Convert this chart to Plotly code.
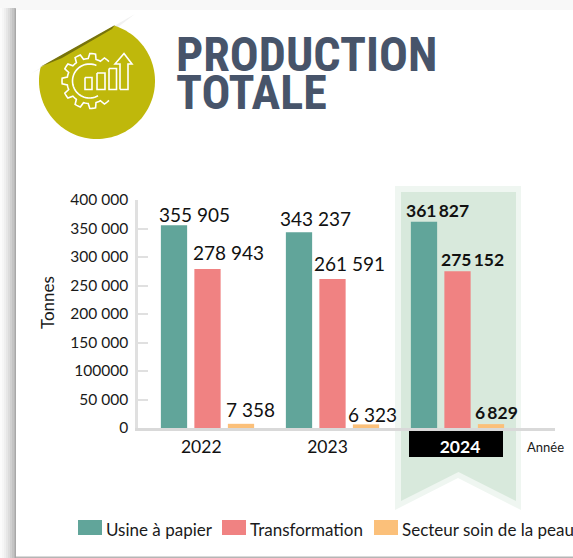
import math
import plotly.graph_objects as go

W, H = 573, 558
years = ["2022", "2023", "2024"]
usine = [355905, 343237, 361827]
transformation = [278943, 261591, 275152]
soin = [7358, 6323, 6829]
series_names = ["Usine à papier", "Transformation", "Secteur soin de la peau"]
colors = ["#61a59a", "#f08282", "#fbc07a"]
y_ticks = [0, 50000, 100000, 150000, 200000, 250000, 300000, 350000, 400000]
y_labels = ["0", "50 000", "100000", "150 000", "200 000", "250 000", "300 000", "350 000", "400 000"]

FONT = "Lato"
TITLE_COL = "#47546a"
OLIVE = "#bfb80b"
ML, MR, MT, MB = 138, 18, 200, 130
PW, PH = W - ML - MR, H - MT - MB

def X(p): return (p - ML) / PW
def Y(p): return (MT + PH - p) / PH
def fmt(v, sep=" "): return f"{v:,}".replace(",", sep)

def path(points, close=True):
    s = "M " + " L ".join(f"{X(a):.5f},{Y(b):.5f}" for a, b in points)
    return s + (" Z" if close else "")

shapes = []
def poly(points, fill, layer="below", line=None, width=0, close=True):
    shapes.append(dict(type="path", xref="paper", yref="paper", path=path(points, close), layer=layer,
                       fillcolor=fill if close else "rgba(0,0,0,0)",
                       line=dict(color=line or "rgba(0,0,0,0)", width=width)))
def rect(x0, y0, x1, y1, fill, layer="below"):
    poly([(x0, y0), (x1, y0), (x1, y1), (x0, y1)], fill, layer)

# page shadow around the card
rect(0, 0, W, 10, "#f8f8f8")
for i, col in enumerate(["#fbfbfb", "#f6f6f6", "#efefef", "#e6e6e6", "#dcdcdc", "#d0d0d0", "#c4c4c4", "#b8b8b8"]):
    rect(i * 2, 8, i * 2 + 2, H, col)
rect(15, 9, 16, H, "#a8a8a8")
rect(16, 556.5, W, H, "#b5b5b5")

# ribbon behind 2024
rib = lambda l, r, t, b, n: [(l, t), (r, t), (r, b), ((l + r) / 2, n), (l, b)]
poly(rib(395, 521, 186, 510, 478), "#eff6f1")
poly(rib(401, 516, 192, 501, 472), "#d8e9dc")
rect(409, 429, 503, 457, "#000000")

# badge
cx, cy, rad = 97, 81, 58
a0 = math.atan2(67 - cy, 40 - cx)
a1 = math.atan2(25 - cy, 115 - cx)
if a0 < 0: a0 += 2 * math.pi
if a1 < 0: a1 += 2 * math.pi
steps = 90
badge = []
start = a1
end = a0
if end < start:
    end += 2 * math.pi
for k in range(steps + 1):
    a = start + (end - start) * k / steps
    badge.append((cx + rad * math.cos(a), cy + rad * math.sin(a)))
poly([(30, 74), (135, 14), (118, 27), (42, 68)], "#f1f1f1")
poly(badge, OLIVE)
poly([(40, 67), (115, 25), (112, 29), (62, 58)], "#77730c")

# icon: gear outline
gx, gy = 89.5, 81
gear = []
teeth = 8
for k in range(0, 8 * teeth + 4):
    ang = math.radians(45 + k * (270 / (8 * teeth + 3)))
    phase = (k % 8)
    r = 27.5 if phase in (0, 1, 2, 3) else 22.5
    gear.append((gx + r * math.cos(ang), gy + r * math.sin(ang)))
poly(gear, None, "above", "#ffffff", 1.6, close=False)
arc = [(gx + 17 * math.cos(math.radians(t)), gy + 17 * math.sin(math.radians(t))) for t in range(60, 300, 6)]
poly(arc, None, "above", "#ffffff", 1.6, close=False)
for x0, y0, x1 in [(85, 77.5, 92), (97, 73, 105), (109, 68.5, 116.5)]:
    poly([(x0, y0), (x1, y0), (x1, 89.5), (x0, 89.5), (x0, y0)], None, "above", "#ffffff", 1.6, close=False)
poly([(120, 89.5), (120, 64), (115, 64), (124, 53.5), (132, 64), (128, 64), (128, 89.5), (120, 89.5)],
     None, "above", "#ffffff", 1.6, close=False)

# legend swatches
swatches = [(78, 102), (222, 246), (374, 398)]
for (a, b), c in zip(swatches, colors):
    rect(a, 520, b, 535, c, "above")

annotations = []
def text(px, py, s, size=15, col="#1a1a1a", anchor="left", angle=0, fam=FONT, **kw):
    annotations.append(dict(xref="paper", yref="paper", x=X(px), y=Y(py), text=s, showarrow=False,
                            xanchor=anchor, yanchor="middle", textangle=angle,
                            font=dict(family=fam, size=size, color=col), **kw))

text(175, 54, "<b>PRODUCTION</b>", 48, TITLE_COL, fam="Roboto Condensed, Roboto", height=36, borderpad=0)
text(175, 92, "<b>TOTALE</b>", 48, TITLE_COL, fam="Roboto Condensed, Roboto", height=36, borderpad=0)
text(47, 303, "Tonnes", 17, anchor="center", angle=-90)
text(525, 447, "Année", 13)
for (a, b), n in zip(swatches, series_names):
    text(b + 2, 529, n, 17)

# data labels, left-aligned from the bar's left edge; nudges are pixel offsets per label
pitch = 33.5 / 125
series = [usine, transformation, soin]
nudge_x = [[-4, -8, -7], [-3.5, -7, -5], [-4, -7, -5]]
nudge_y = [[-2, 1, 0], [4, 3, 0], [2, -3, 0]]
for s_i, vals in enumerate(series):
    for c_i, v in enumerate(vals):
        bar_left = c_i + (s_i - 1) * pitch - 0.105
        label = fmt(v)
        size = 19
        if c_i == 2:
            label, size = f"<b>{fmt(v, chr(0x2009))}</b>", 17.5
        annotations.append(dict(xref="x", yref="y", x=bar_left, y=v, text=label, showarrow=False,
                                xanchor="left", yanchor="bottom", xshift=nudge_x[s_i][c_i],
                                yshift=-1 + nudge_y[s_i][c_i],
                                font=dict(family=FONT, size=size, color="#111111")))

fig = go.Figure()
for name, vals, c in zip(series_names, series, colors):
    fig.add_bar(name=name, x=years, y=vals, marker=dict(color=c, line=dict(width=0)), showlegend=False)

fig.update_layout(
    width=W, height=H, autosize=False,
    margin=dict(l=ML, r=MR, t=MT, b=MB, pad=0),
    paper_bgcolor="#ffffff", plot_bgcolor="rgba(0,0,0,0)",
    barmode="group", bargap=0.196, bargroupgap=0.216,
    showlegend=False, shapes=shapes, annotations=annotations,
    font=dict(family=FONT, color="#1a1a1a"),
    xaxis=dict(type="category", range=[-0.556, 2.78], showgrid=False, zeroline=False,
               showline=True, linecolor="#d9d9d9", linewidth=3, ticks="",
               tickmode="array", tickvals=[-0.05, 0.96, 2.02],
               ticktext=[years[0], years[1], f'<span style="color:white"><b>{years[2]}</b></span>'],
               tickfont=dict(size=17.5, color="#111111"), ticklabelstandoff=1),
    yaxis=dict(range=[0, 400000], showgrid=False, zeroline=False, showline=True,
               linecolor="#e0e0e0", linewidth=2.5, ticks="inside", ticklen=10, tickwidth=2,
               tickcolor="#e0e0e0", tickmode="array",
               tickvals=y_ticks, ticktext=y_labels, tickfont=dict(size=15.5, color="#1a1a1a"),
               ticklabelstandoff=4),
)
fig.write_html("out.html", config=dict(displayModeBar=False),
               post_script="document.body.style.margin='0';document.body.style.overflow='hidden';")
